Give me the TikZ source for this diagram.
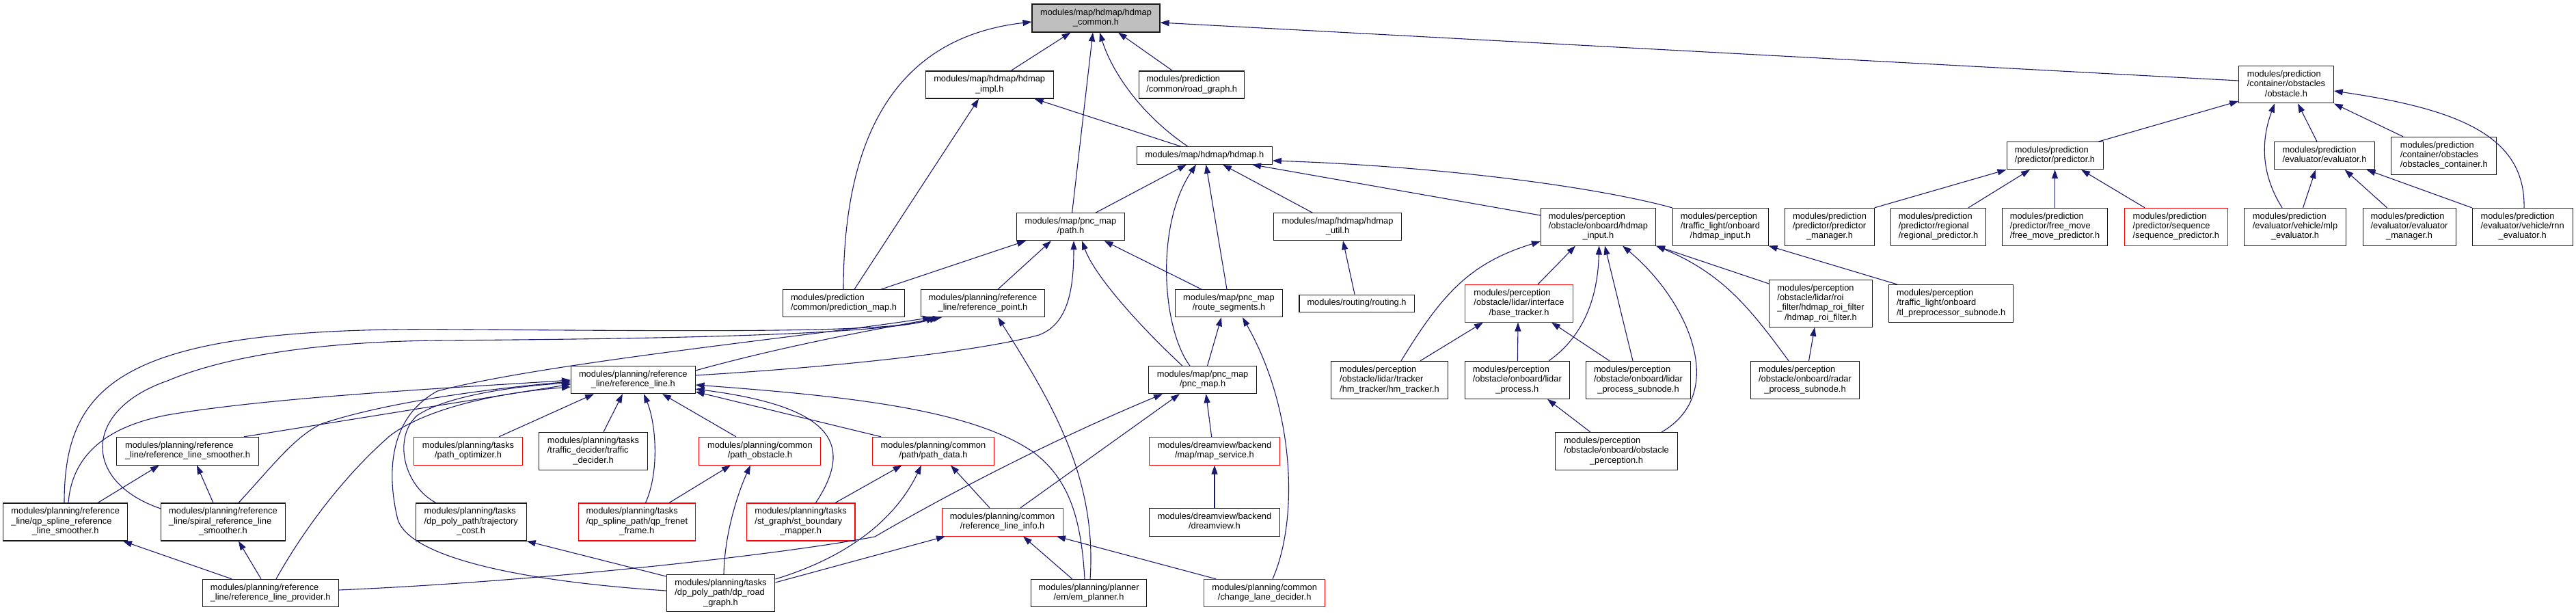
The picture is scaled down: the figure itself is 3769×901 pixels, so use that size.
\documentclass[tikz,border=0pt]{standalone}
\usepackage{fontspec}
\setmainfont{Liberation Sans}
\usetikzlibrary{arrows.meta}
\definecolor{navy}{RGB}{25,25,112}
\definecolor{rootgray}{RGB}{191,191,191}
\newcommand{\NL}[2]{\begin{tabular}{@{}l@{}}#1\\\multicolumn{1}{@{}c@{}}{#2}\end{tabular}}
\newcommand{\OL}[1]{\begin{tabular}{@{}c@{}}#1\end{tabular}}
\tikzset{
  box/.style={draw=black!90, line width=1.05pt, fill=white, inner sep=0pt, rectangle,
    font=\fontsize{12.85}{14.4}\selectfont},
  redbox/.style={box, draw=red},
  wh/.style 2 args={minimum width=#1pt, minimum height=#2pt},
  dep/.style={draw=navy, line width=1.1pt, -{Triangle[length=13pt,width=9pt]}}
}
\begin{document}
\begin{tikzpicture}[x=1pt,y=-1pt]
\useasboundingbox (0,0) rectangle (3769,901);
% ---------------- nodes ----------------
\node[box,wh={187}{41},fill=rootgray] (hc) at (1603.5,26.5) {\NL{modules/map/hdmap/hdmap}{\_common.h}};
\node[box,wh={187}{40}] (impl) at (1447.7,124) {\NL{modules/map/hdmap/hdmap}{\_impl.h}};
\node[box,wh={154}{40}] (rg) at (1743.7,124) {\NL{modules/prediction}{/common/road\_graph.h}};
\node[box,wh={197.5}{25.5}] (hd) at (1762.5,227.5) {\OL{modules/map/hdmap/hdmap.h}};
\node[box,wh={157.5}{40}] (path) at (1566.5,331.7) {\NL{modules/map/pnc\_map}{/path.h}};
\node[box,wh={178.4}{40}] (pm) at (1234.5,443.7) {\NL{modules/prediction}{/common/prediction\_map.h}};
\node[box,wh={181.6}{40}] (rp) at (1438,443.7) {\NL{modules/planning/reference}{\_line/reference\_point.h}};
\node[box,wh={157}{40}] (rs) at (1798,443.7) {\NL{modules/map/pnc\_map}{/route\_segments.h}};
\node[box,wh={187}{40}] (util) at (1957,331.7) {\NL{modules/map/hdmap/hdmap}{\_util.h}};
\node[box,wh={168}{25.5}] (rt) at (1985,443.8) {\OL{modules/routing/routing.h}};
\node[box,wh={168}{54.7}] (hi) at (2338.4,331.7) {\NL{modules/perception\\/obstacle/onboard/hdmap}{\_input.h}};
\node[box,wh={140}{54.7}] (tlh) at (2517,331.7) {\NL{modules/perception\\/traffic\_light/onboard}{/hdmap\_input.h}};
\node[redbox,wh={157.5}{54.5}] (bt) at (2222.5,443.8) {\NL{modules/perception\\/obstacle/lidar/interface}{/base\_tracker.h}};
\node[box,wh={141}{40}] (pr) at (3006.5,227.7) {\NL{modules/prediction}{/predictor/predictor.h}};
\node[box,wh={130.6}{54.7}] (pmg) at (2677,331.7) {\NL{modules/prediction\\/predictor/predictor}{\_manager.h}};
\node[box,wh={138.4}{54.7}] (reg) at (2836,331.7) {\NL{modules/prediction\\/predictor/regional}{/regional\_predictor.h}};
\node[box,wh={154.7}{54.7}] (fm) at (3006.5,331.7) {\NL{modules/prediction\\/predictor/free\_move}{/free\_move\_predictor.h}};
\node[redbox,wh={150.6}{54.7}] (seq) at (3183.8,331.7) {\NL{modules/prediction\\/predictor/sequence}{/sequence\_predictor.h}};
\node[box,wh={150.6}{69}] (roi) at (2664,443.8) {\NL{modules/perception\\/obstacle/lidar/roi\\\_filter/hdmap\_roi\_filter}{/hdmap\_roi\_filter.h}};
\node[box,wh={182}{54.5}] (tlp) at (2854.7,443.8) {\NL{modules/perception\\/traffic\_light/onboard}{/tl\_preprocessor\_subnode.h}};
\node[box,wh={138.6}{54.3}] (obs) at (3345,123.8) {\NL{modules/prediction\\/container/obstacles}{/obstacle.h}};
\node[box,wh={146.3}{40}] (ev) at (3401,227.7) {\NL{modules/prediction}{/evaluator/evaluator.h}};
\node[box,wh={153.6}{54.7}] (oc) at (3575.7,227.7) {\NL{modules/prediction\\/container/obstacles}{/obstacles\_container.h}};
\node[box,wh={149.4}{54.7}] (mlp) at (3358,331.7) {\NL{modules/prediction\\/evaluator/vehicle/mlp}{\_evaluator.h}};
\node[box,wh={136}{54.7}] (emg) at (3525,331.7) {\NL{modules/prediction\\/evaluator/evaluator}{\_manager.h}};
\node[box,wh={147.2}{54.7}] (rnn) at (3690.6,331.7) {\NL{modules/prediction\\/evaluator/vehicle/rnn}{\_evaluator.h}};
\node[box,wh={207.8}{40.7}] (rls) at (274.5,659.7) {\NL{modules/planning/reference}{\_line/reference\_line\_smoother.h}};
\node[box,wh={181.6}{55}] (qp) at (95.7,763.5) {\NL{modules/planning/reference\\\_line/qp\_spline\_reference}{\_line\_smoother.h}};
\node[box,wh={181.2}{55}] (sp) at (326.5,763.5) {\NL{modules/planning/reference\\\_line/spiral\_reference\_line}{\_smoother.h}};
\node[box,wh={198.8}{40.4}] (rlp) at (395.7,867.5) {\NL{modules/planning/reference}{\_line/reference\_line\_provider.h}};
\node[box,wh={181.6}{40}] (rl) at (926.3,555.7) {\NL{modules/planning/reference}{\_line/reference\_line.h}};
\node[redbox,wh={159.6}{40.7}] (po) at (685,659.7) {\NL{modules/planning/tasks}{/path\_optimizer.h}};
\node[box,wh={158.7}{55}] (td) at (868,659.8) {\NL{modules/planning/tasks\\/traffic\_decider/traffic}{\_decider.h}};
\node[redbox,wh={177.9}{40.7}] (pob) at (1111.9,659.7) {\NL{modules/planning/common}{/path\_obstacle.h}};
\node[box,wh={162}{55}] (tc) at (689.2,763.5) {\NL{modules/planning/tasks\\/dp\_poly\_path/trajectory}{\_cost.h}};
\node[redbox,wh={170.6}{55}] (qf) at (931.8,763.5) {\NL{modules/planning/tasks\\/qp\_spline\_path/qp\_frenet}{\_frame.h}};
\node[redbox,wh={158.8}{55}] (st) at (1171.6,763.5) {\NL{modules/planning/tasks\\/st\_graph/st\_boundary}{\_mapper.h}};
\node[box,wh={158.8}{54.3}] (dp) at (1054.5,867.8) {\NL{modules/planning/tasks\\/dp\_poly\_path/dp\_road}{\_graph.h}};
\node[box,wh={157.6}{40}] (pnc) at (1759.6,555.7) {\NL{modules/map/pnc\_map}{/pnc\_map.h}};
\node[redbox,wh={177.6}{40.7}] (pd) at (1365.5,659.7) {\NL{modules/planning/common}{/path/path\_data.h}};
\node[redbox,wh={191}{40.7}] (ms) at (1777,659.7) {\NL{modules/dreamview/backend}{/map/map\_service.h}};
\node[redbox,wh={177.1}{40.7}] (rli) at (1466.6,763.7) {\NL{modules/planning/common}{/reference\_line\_info.h}};
\node[box,wh={191}{40.7}] (dv) at (1777,763.7) {\NL{modules/dreamview/backend}{/dreamview.h}};
\node[box,wh={169.8}{40.4}] (em) at (1593,867.5) {\NL{modules/planning/planner}{/em/em\_planner.h}};
\node[redbox,wh={177.2}{40.4}] (cl) at (1850.2,867.5) {\NL{modules/planning/common}{/change\_lane\_decider.h}};
\node[box,wh={170.6}{55}] (hm) at (2033,555.8) {\NL{modules/perception\\/obstacle/lidar/tracker}{/hm\_tracker/hm\_tracker.h}};
\node[box,wh={153}{55}] (lp) at (2219.8,555.8) {\NL{modules/perception\\/obstacle/onboard/lidar}{\_process.h}};
\node[box,wh={153.5}{55}] (ls) at (2397,555.8) {\NL{modules/perception\\/obstacle/onboard/lidar}{\_process\_subnode.h}};
\node[box,wh={178.4}{54.5}] (op) at (2365,659.8) {\NL{modules/perception\\/obstacle/onboard/obstacle}{\_perception.h}};
\node[box,wh={159}{55}] (rad) at (2641,555.8) {\NL{modules/perception\\/obstacle/onboard/radar}{\_process\_subnode.h}};
% ---------------- edges ----------------
% into hdmap_common
\draw[dep] (pm.north -| 1234,0) .. controls (1234,200) and (1310,55) .. (hc.west |- 0,32);
\draw[dep] (impl.north -| 1479,0) -- (hc.south -| 1566.5,0);
\draw[dep] (path.north -| 1568.6,0) -- (hc.south -| 1599,0);
\draw[dep] (hd.north -| 1738,0) .. controls (1665,165) and (1625,100) .. (hc.south -| 1609,0);
\draw[dep] (rg.north -| 1715.5,0) -- (hc.south -| 1636,0);
\draw[dep] (obs.west |- 0,118) -- (hc.east |- 0,33);
% into hdmap_impl
\draw[dep] (pm.north -| 1250,0) -- (impl.south -| 1432,0);
\draw[dep] (hd.north -| 1728,0) -- (impl.south -| 1513.5,0);
% into hdmap.h
\draw[dep] (path.north -| 1603,0) -- (hd.south -| 1736,0);
\draw[dep] (pnc.north -| 1741,0) .. controls (1700,480) and (1690,330) .. (hd.south -| 1750,0);
\draw[dep] (rs.north -| 1795,0) -- (hd.south -| 1764.5,0);
\draw[dep] (util.north -| 1920.4,0) -- (hd.south -| 1789,0);
\draw[dep] (hi.west |- 0,315) -- (hd.south -| 1832,0);
\draw[dep] (tlh.north west) .. controls (2330,272) and (2100,243) .. (hd.east |- 0,235);
% into path.h
\draw[dep] (pm.north -| 1289,0) -- (path.south -| 1501,0);
\draw[dep] (rp.north -| 1460,0) -- (path.south -| 1538,0);
\draw[dep] (rl.east |- 0,549) .. controls (1250,535) and (1440,512) .. (1520,490) .. controls (1560,475) and (1571,430) .. (path.south -| 1571,0);
\draw[dep] (pnc.north -| 1730,0) .. controls (1660,470) and (1600,400) .. (path.south -| 1583,0);
\draw[dep] (rs.north -| 1758,0) -- (path.south -| 1615.5,0);
% into reference_point
\draw[dep] (rl.east |- 0,542) .. controls (1150,505) and (1300,478) .. (rp.south -| 1378,0);
\draw[dep] (qp.north -| 94,0) .. controls (94,560) and (180,480) .. (640,481.7) .. controls (1000,484) and (1300,488) .. (rp.south -| 1368,0);
\draw[dep] (sp.west |- 0,744) .. controls (120,705) and (120,600) .. (245,557) .. controls (320,525) and (450,500) .. (640,498) .. controls (900,496) and (1280,492) .. (rp.south -| 1373,0);
\draw[dep] (dp.west |- 0,864) .. controls (760,850) and (600,815) .. (582,760) .. controls (565,690) and (570,610) .. (640,572) .. controls (800,530) and (1200,490) .. (rp.south -| 1363,0);
\draw[dep] (em.north -| 1595,0) .. controls (1605,700) and (1540,590) .. (rp.south -| 1460,0);
% into reference_line
\draw[dep] (po.north -| 730,0) -- (rl.south -| 869,0);
\draw[dep] (td.north -| 883,0) -- (rl.south -| 911,0);
\draw[dep] (qf.north -| 944.5,0) .. controls (965,690) and (960,620) .. (rl.south -| 942,0);
\draw[dep] (pob.north -| 1077,0) -- (rl.south -| 969,0);
\draw[dep] (st.north -| 1193.5,0) .. controls (1250,650) and (1220,595) .. (rl.east |- 0,569);
\draw[dep] (pd.north -| 1289,0) -- (rl.east |- 0,573);
\draw[dep] (em.north -| 1587,0) .. controls (1582,760) and (1565,700) .. (1510,660) .. controls (1420,600) and (1250,580) .. (rl.east |- 0,563);
\draw[dep] (rls.north -| 357,0) -- (rl.west |- 0,562);
\draw[dep] (qp.north -| 100,0) .. controls (105,670) and (150,625) .. (245,607) .. controls (400,580) and (700,565) .. (rl.west |- 0,556);
\draw[dep] (sp.north -| 349,0) .. controls (400,680) and (430,640) .. (470,620) .. controls (560,590) and (700,570) .. (rl.west |- 0,558);
\draw[dep] (rlp.north -| 404,0) .. controls (450,765) and (510,690) .. (571,637) .. controls (620,600) and (720,575) .. (rl.west |- 0,566);
\draw[dep] (tc.north -| 638,0) .. controls (590,710) and (575,640) .. (610,608) .. controls (650,580) and (750,565) .. (rl.west |- 0,560);
% into pnc_map.h
\draw[dep] (rlp.east |- 0,863) .. controls (800,850) and (1150,810) .. (1280,785) .. controls (1340,750) and (1500,660) .. (pnc.south -| 1701,0);
\draw[dep] (rli.north -| 1493,0) -- (pnc.south -| 1726,0);
\draw[dep] (ms.north -| 1772.7,0) -- (pnc.south -| 1764.5,0);
% into path_data
\draw[dep] (st.north -| 1222,0) -- (pd.south -| 1319.6,0);
\draw[dep] (dp.east |- 0,847) .. controls (1240,815) and (1310,760) .. (pd.south -| 1348,0);
\draw[dep] (rli.north -| 1448,0) -- (pd.south -| 1391,0);
% into path_obstacle
\draw[dep] (qf.north -| 979,0) -- (pob.south -| 1069,0);
\draw[dep] (dp.north -| 1059,0) .. controls (1060,780) and (1080,720) .. (pob.south -| 1098,0);
% into reference_line_info
\draw[dep] (dp.east |- 0,852) -- (rli.south -| 1383,0);
\draw[dep] (em.north -| 1568.6,0) -- (rli.south -| 1497,0);
\draw[dep] (cl.north -| 1779,0) -- (rli.south -| 1546,0);
% into trajectory_cost
\draw[dep] (dp.west |- 0,843) -- (tc.south east);
% into route_segments
\draw[dep] (pnc.north -| 1766.5,0) -- (rs.south -| 1787,0);
\draw[dep] (cl.north -| 1862,0) .. controls (1900,760) and (1895,600) .. (rs.south -| 1818,0);
% misc
\draw[dep] (dv) -- (ms);
\draw[dep] (rt.north -| 1982,0) -- (util.south -| 1965,0);
\draw[dep] (qp.north -| 143,0) -- (rls.south -| 233,0);
\draw[dep] (sp.north -| 312,0) -- (rls.south -| 288,0);
\draw[dep] (rlp.north -| 339,0) -- (qp.south -| 180,0);
\draw[dep] (rlp.north -| 382,0) -- (sp.south -| 349,0);
% perception
\draw[dep] (hm.north -| 2050,0) .. controls (2110,430) and (2150,385) .. (hi.west |- 0,353);
\draw[dep] (bt.north -| 2250,0) -- (hi.south -| 2305,0);
\draw[dep] (lp.north -| 2266,0) .. controls (2320,490) and (2338,430) .. (hi.south -| 2339.6,0);
\draw[dep] (ls.north -| 2389,0) -- (hi.south -| 2348,0);
\draw[dep] (op.north -| 2431,0) .. controls (2530,575) and (2470,440) .. (hi.south -| 2374,0);
\draw[dep] (roi.west |- 0,415) -- (hi.south east);
\draw[dep] (rad.north -| 2617,0) .. controls (2560,450) and (2520,400) .. (hi.south east);
\draw[dep] (tlp.north -| 2776,0) -- (tlh.south east);
\draw[dep] (hm.north -| 2078,0) -- (bt.south -| 2170,0);
\draw[dep] (lp.north -| 2220.4,0) -- (bt.south -| 2221,0);
\draw[dep] (ls.north -| 2355,0) -- (bt.south -| 2270,0);
\draw[dep] (op.north -| 2327,0) -- (lp.south -| 2264,0);
\draw[dep] (rad.north -| 2646.5,0) -- (roi.south -| 2655,0);
% prediction
\draw[dep] (pr.north -| 3070,0) -- (obs.west |- 0,148);
\draw[dep] (mlp.north -| 3339,0) .. controls (3305,250) and (3310,200) .. (obs.south -| 3328,0);
\draw[dep] (ev.north -| 3390,0) -- (obs.south -| 3362,0);
\draw[dep] (oc.north -| 3516,0) -- (obs.south east);
\draw[dep] (rnn.north -| 3693,0) .. controls (3695,200) and (3600,160) .. (obs.east |- 0,133);
\draw[dep] (pmg.north east) -- (pr.south west);
\draw[dep] (reg.north -| 2880,0) -- (pr.south -| 2970,0);
\draw[dep] (fm.north) -- (pr.south);
\draw[dep] (seq.north -| 3138,0) -- (pr.south -| 3045,0);
\draw[dep] (mlp.north -| 3369.6,0) -- (ev.south -| 3388,0);
\draw[dep] (emg.north -| 3492.5,0) -- (ev.south -| 3430.6,0);
\draw[dep] (rnn.north west) -- (ev.south -| 3462.6,0);
\end{tikzpicture}
\end{document}
